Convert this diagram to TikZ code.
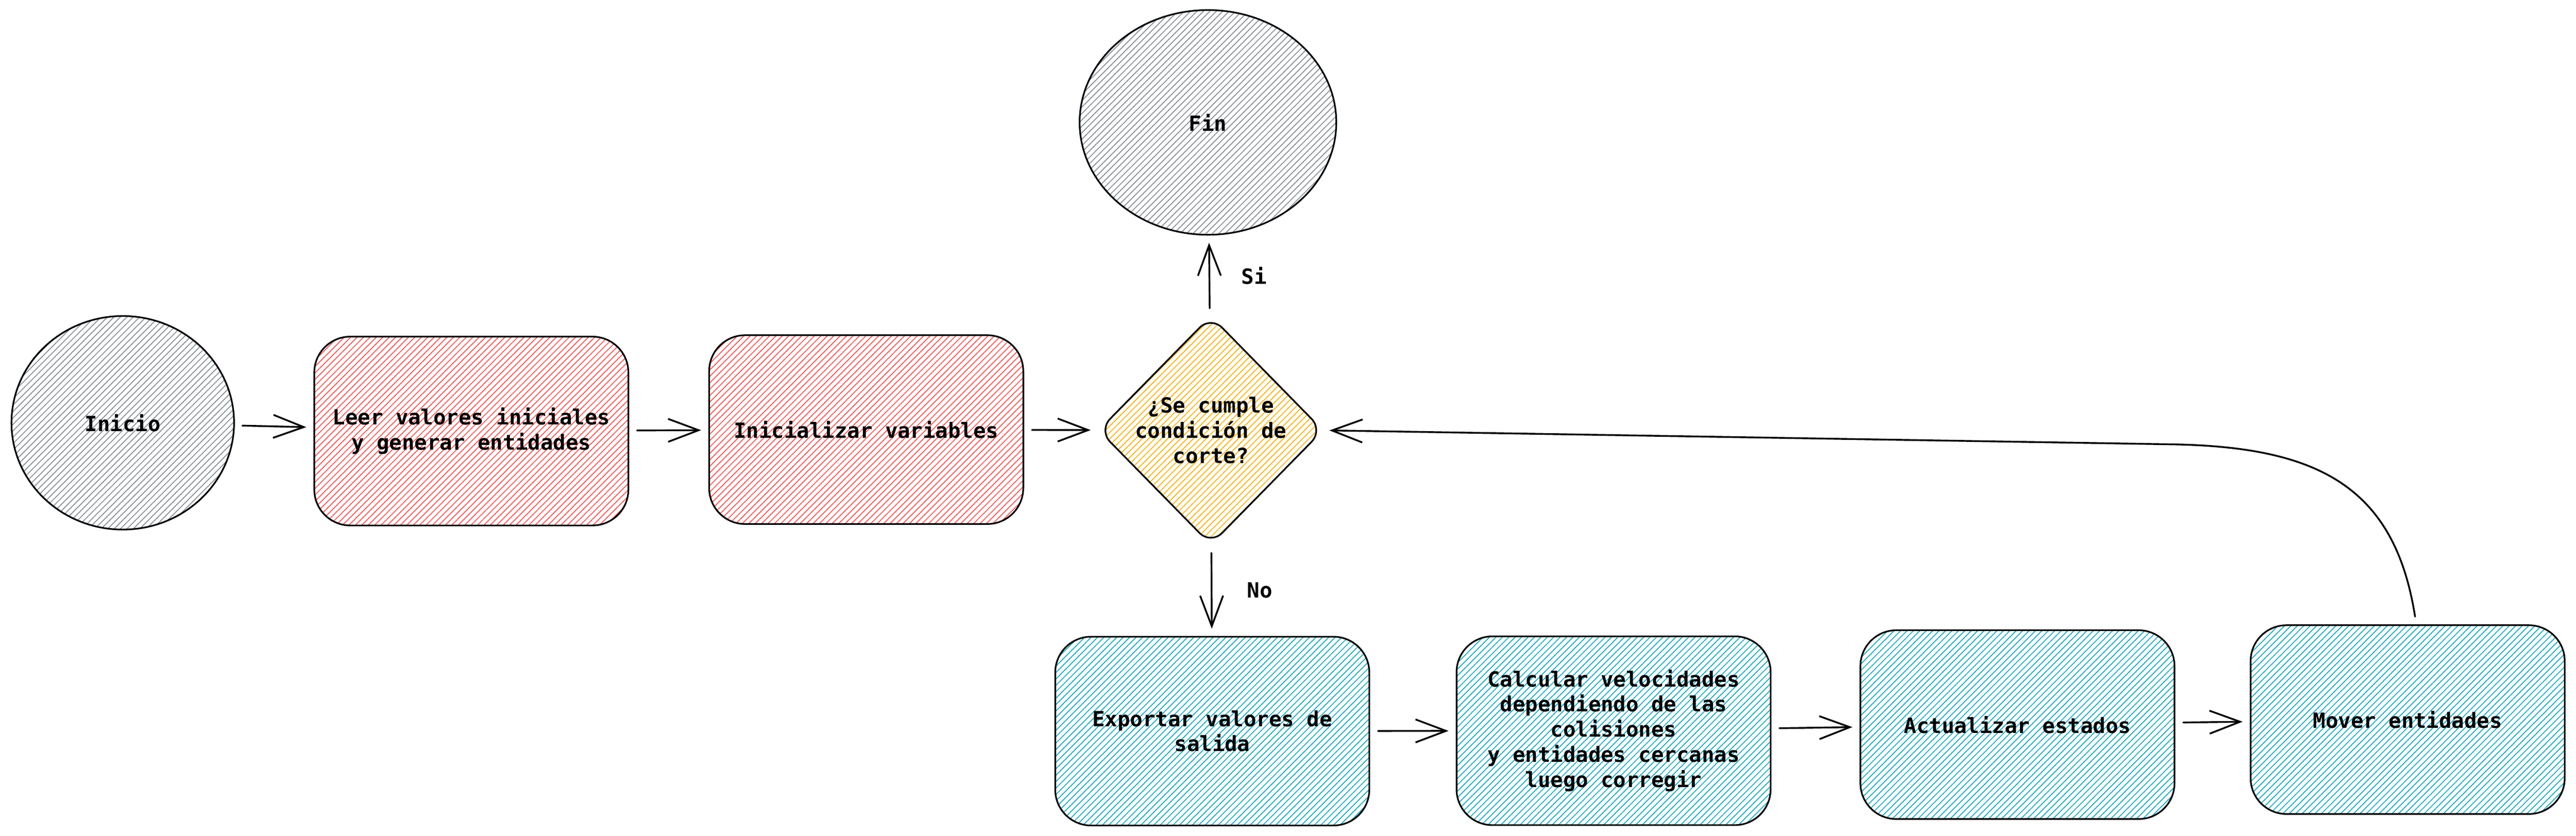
\documentclass[tikz,border=0pt]{standalone}
\usepackage{fontspec}
\setmonofont{DejaVu Sans Mono}
\usepackage{tikz}
\usetikzlibrary{positioning,shapes.geometric,arrows.meta,patterns.meta}

\definecolor{grisfill}{HTML}{868E96}
\definecolor{rojofill}{HTML}{FA5252}
\definecolor{amarillofill}{HTML}{FAB005}
\definecolor{cianfill}{HTML}{15AABF}

\begin{document}
\begin{tikzpicture}
        [every node/.style={font=\fontsize{16.6}{20}\selectfont\ttfamily\bfseries},
         hatch/.style={pattern={Lines[angle=45,distance=3.6pt,line width=0.7pt]},pattern color=#1},
         paso/.style={rectangle,rounded corners=1cm,draw,line width=1.3pt,minimum width=8.75cm,minimum height=5.26cm,align=center},
         terminal/.style={ellipse,draw,line width=1.3pt,minimum width=6.2cm,minimum height=5.95cm,hatch=grisfill},
         decision/.style={diamond,draw,line width=1.3pt,rounded corners=0.45cm,minimum width=6.26cm,minimum height=6.38cm,inner sep=0pt,hatch=amarillofill},
         flecha/.style={-{Straight Barb[length=0.85cm,width=0.64cm]},line width=1.4pt,line cap=round,shorten <=0.22cm,shorten >=0.2cm}]
        \useasboundingbox (0,0) rectangle (71.76,-23.28);

        \node[terminal] (inicio) at (3.42, -11.78) {Inicio};
        \node[terminal,minimum width=7.15cm,minimum height=6.26cm] (fin) at (33.65, -3.41) {Fin};
        \node[paso,hatch=rojofill] (leer) at (13.13, -12.01) {Leer valores iniciales\\y generar entidades};
        \node[paso,hatch=rojofill] (ini) at (24.13, -11.97) {Inicializar variables};
        \node[decision,label={[align=center]center:¿Se cumple\\condición de\\corte?}] (cond) at (33.73, -11.99) {};
        \node[paso,hatch=cianfill] (exp) at (33.77, -20.37) {Exportar valores de\\salida};
        \node[paso,hatch=cianfill] (calc) at (44.95, -20.36) {Calcular velocidades\\dependiendo de las\\colisiones\\y entidades cercanas\\luego corregir};
        \node[paso,hatch=cianfill] (act) at (56.20, -20.19) {Actualizar estados};
        \node[paso,hatch=cianfill] (mov) at (67.07, -20.05) {Mover entidades};
        \coordinate (codo) at (60.5, -12.38);

        \foreach \from/\to in {inicio/leer, leer/ini, ini/cond, exp/calc, calc/act, act/mov}
            \draw[flecha] (\from) -- (\to);

        \draw[flecha] (cond) -- (fin) node[midway,right=0.75cm] {Si};
        \draw[flecha] (cond) -- (exp) node[midway,right=0.85cm] {No};
        \draw[flecha,shorten >=0.15cm] ([xshift=0.24cm]mov.north) .. controls (66.7, -13.5) and (64.5, -12.45) .. (codo) -- (cond.east);

      \end{tikzpicture}
\end{document}
